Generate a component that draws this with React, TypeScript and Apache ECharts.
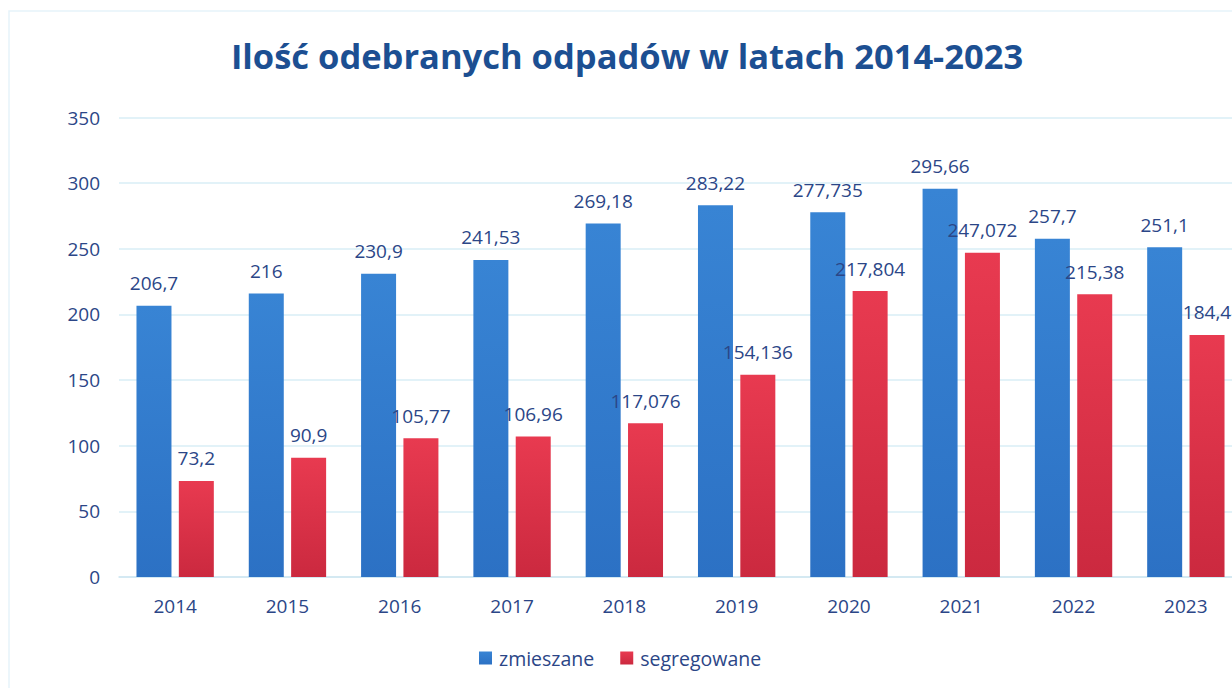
import React, { useEffect, useRef } from "react";
import * as echarts from "echarts";

const categories = ["2014", "2015", "2016", "2017", "2018", "2019", "2020", "2021", "2022", "2023"];
const mixedValues = [206.7, 216, 230.9, 241.53, 269.18, 283.22, 277.735, 295.66, 257.7, 251.1];
const mixedLabels = ["206,7", "216", "230,9", "241,53", "269,18", "283,22", "277,735", "295,66", "257,7", "251,1"];
const sortedValues = [73.2, 90.9, 105.77, 106.96, 117.076, 154.136, 217.804, 247.072, 215.38, 184.4];
const sortedLabels = ["73,2", "90,9", "105,77", "106,96", "117,076", "154,136", "217,804", "247,072", "215,38", "184,4"];
const seriesNames = ["zmieszane", "segregowane"];
const titleText = "Ilość odebranych odpadów w latach 2014-2023";

const FONT = "'Open Sans', 'Noto Sans', sans-serif";
const TEXT = "#2b4687";

export default function App() {
  const ref = useRef<HTMLDivElement>(null);
  useEffect(() => {
    document.body.style.margin = "0";
    document.body.style.overflow = "hidden";
    const chart = echarts.init(ref.current!, null, { renderer: "svg" });
    const blue = new echarts.graphic.LinearGradient(0, 0, 0, 1, [
      { offset: 0, color: "#3884d4" },
      { offset: 1, color: "#2c71c4" },
    ]);
    const red = new echarts.graphic.LinearGradient(0, 0, 0, 1, [
      { offset: 0, color: "#e83a50" },
      { offset: 1, color: "#cb293f" },
    ]);
    chart.setOption({
      animation: false,
      backgroundColor: "#ffffff",
      textStyle: { fontFamily: FONT },
      title: {
        text: titleText,
        left: 622,
        textAlign: "center",
        top: 33,
        textStyle: { fontFamily: FONT, fontSize: 34.5, fontWeight: "bold", color: "#1c4f92" },
      },
      graphic: [
        {
          type: "rect",
          shape: { x: 9, y: 11, width: 1400, height: 800 },
          style: { fill: "none", stroke: "#e6f3fa", lineWidth: 1.5 },
          silent: true,
        },
      ],
      legend: {
        data: seriesNames,
        left: 474,
        top: 643,
        itemWidth: 13,
        itemHeight: 13,
        itemGap: 26,
        icon: "rect",
        textStyle: { fontFamily: FONT, fontSize: 19.5, color: TEXT, padding: [0, 0, 0, 2] },
      },
      grid: { left: 119, top: 117.5, width: 1123, height: 459.5, containLabel: false },
      xAxis: {
        type: "category",
        data: categories,
        axisLine: { lineStyle: { color: "#cfe6f1", width: 1.5 } },
        axisTick: { show: false },
        axisLabel: { fontFamily: FONT, fontSize: 19, color: TEXT, margin: 19 },
      },
      yAxis: {
        type: "value",
        min: 0,
        max: 350,
        interval: 50,
        axisLine: { show: false },
        axisTick: { show: false },
        splitLine: { lineStyle: { color: "#d8eef6", width: 1.5 } },
        axisLabel: { fontFamily: FONT, fontSize: 19, color: TEXT, margin: 19 },
      },
      series: [
        {
          name: seriesNames[0],
          type: "bar",
          data: mixedValues,
          barWidth: 35,
          barGap: "21%",
          itemStyle: { color: blue },
          label: {
            show: true,
            position: "top",
            distance: 13,
            fontFamily: FONT,
            fontSize: 19,
            color: TEXT,
            formatter: (p: any) => mixedLabels[p.dataIndex],
          },
        },
        {
          name: seriesNames[1],
          type: "bar",
          data: sortedValues,
          barWidth: 35,
          barGap: "21%",
          itemStyle: { color: red },
          label: {
            show: true,
            position: "top",
            distance: 13,
            fontFamily: FONT,
            fontSize: 19,
            color: TEXT,
            formatter: (p: any) => sortedLabels[p.dataIndex],
          },
        },
      ],
    });
    return () => chart.dispose();
  }, []);
  return (
    <div style={{ position: "fixed", left: 0, top: 0, width: 1232, height: 688, overflow: "hidden" }}>
      <div ref={ref} style={{ width: 1300, height: 688 }} />
    </div>
  );
}
